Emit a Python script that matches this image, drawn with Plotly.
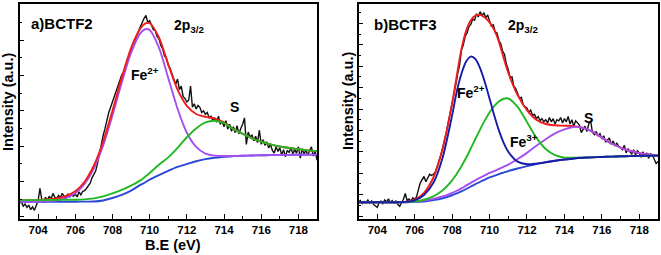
import numpy as np
import plotly.graph_objects as go

W, H = 661, 255

# ---------------- data ----------------
# measured spectra, 703.0 ... 719.0 eV in 0.1 eV steps (161 points)
e_data = np.round(np.linspace(703.0, 719.0, 161), 2)

bctf2_counts = [
    .38, .42, .30, .36, .26, .33, .20, .28, .18, .30,
    .45, .80, .48, .40, .55, .46, .58, .50, .66, .55,
    .52, .60, .54, .66, .58, .50, .65, .56, .62, .58,
    .64, .56, .70, .62, .72, .74, .80, .88, .95, 1.10,
    1.22, 1.30, 1.52, 1.80, 2.05, 2.30, 2.50, 2.78, 2.95, 3.10,
    3.25, 3.40, 3.58, 3.75, 3.85, 4.02, 4.10, 4.30, 4.45, 4.55,
    4.75, 4.90, 5.00, 5.15, 5.25, 5.38, 5.52, 5.62, 5.70, 5.50,
    5.55, 5.40, 5.30, 5.28, 5.10, 5.05, 4.85, 4.75, 4.55, 4.50,
    4.30, 4.20, 4.05, 3.95, 3.75, 3.90, 3.60, 3.70, 3.40, 3.35,
    3.25, 3.30, 3.70, 3.10, 3.20, 3.05, 3.15, 3.10, 2.95, 3.00,
    2.90, 2.95, 2.80, 2.85, 2.72, 2.80, 2.68, 2.85, 2.62, 2.70,
    2.55, 2.72, 2.48, 2.62, 2.42, 2.55, 2.38, 2.58, 2.35, 2.50,
    2.62, 2.80, 2.05, 2.40, 2.25, 2.32, 2.15, 2.28, 2.10, 2.45,
    2.05, 2.18, 2.02, 2.12, 1.95, 2.05, 1.88, 1.80, 1.98, 1.85,
    1.95, 1.75, 1.90, 1.70, 1.88, 1.82, 1.95, 1.78, 1.90, 1.80,
    1.98, 1.66, 1.92, 1.78, 1.88, 1.75, 1.85, 1.98, 1.72, 1.85,
    1.60,
]

bctf3_counts = [
    .66, .72, .58, .68, .62, .75, .60, .70, .55, .45,
    .40, .62, .70, .58, .75, .66, .80, .62, .72, .60,
    .70, .55, .45, .62, .78, 1.05, .72, .80, .70, .85,
    .78, .90, 1.25, 1.55, 1.70, 1.85, 1.60, 1.75, 1.95, 1.90,
    1.95, 2.05, 2.30, 2.55, 2.85, 3.20, 3.55, 3.95, 4.40, 4.80,
    5.30, 5.75, 6.15, 6.65, 7.05, 7.75, 8.00, 8.40, 8.55, 8.85,
    8.95, 9.20, 9.15, 9.45, 9.30, 9.55, 9.35, 9.50, 9.25, 9.40,
    9.10, 8.85, 8.95, 8.60, 8.55, 8.20, 8.05, 7.70, 7.55, 7.10,
    6.85, 6.45, 6.50, 6.05, 5.95, 5.75, 5.50, 5.55, 5.20, 5.10,
    5.05, 4.85, 4.95, 4.70, 4.75, 4.55, 4.65, 4.45, 4.55, 4.40,
    4.50, 4.35, 4.60, 4.40, 4.55, 4.30, 4.50, 4.45, 4.60, 4.35,
    4.55, 4.40, 4.65, 4.30, 4.50, 4.20, 4.45, 4.35, 4.25, 3.90,
    4.05, 4.20, 3.95, 4.30, 4.45, 3.90, 3.80, 3.95, 3.75, 3.85,
    3.60, 3.75, 3.45, 3.55, 3.65, 3.35, 3.50, 3.30, 3.40, 3.25,
    3.20, 3.10, 3.30, 2.95, 3.15, 3.00, 2.90, 3.10, 2.85, 3.05,
    2.95, 2.75, 3.00, 2.80, 2.95, 2.70, 2.90, 2.85, 2.60, 2.45,
    2.55,
]

# fitted curves, panel a (BCTF2)
e_fit_a = [703, 703.5, 704, 704.5, 705, 705.5, 706, 706.5, 707, 707.5,
           708, 708.5, 709, 709.5, 709.75, 710, 710.5, 711, 711.5, 712,
           712.5, 713, 713.5, 714, 714.5, 715, 715.5, 716, 716.5, 717,
           717.5, 718, 718.5, 719]
a_background = [.425, .425, .425, .425, .425, .425, .425, .427, .43, .46,
                .53, .62, .74, .90, .97, 1.05, 1.18, 1.30, 1.41, 1.49,
                1.57, 1.63, 1.67, 1.70, 1.715, 1.725, 1.733, 1.74, 1.745, 1.75,
                1.752, 1.755, 1.758, 1.76]
a_fe2 = [.425, .425, .425, .44, .465, .535, .665, .93, 1.36, 2.02,
         2.87, 3.80, 4.64, 5.20, 5.31, 5.29, 4.79, 3.93, 3.06, 2.38,
         1.98, 1.79, 1.73, 1.72, 1.72, 1.725, 1.733, 1.74, 1.745, 1.75,
         1.752, 1.755, 1.758, 1.76]
a_sat = [.47, .47, .47, .472, .475, .478, .48, .49, .52, .575,
         .66, .76, .88, 1.03, 1.13, 1.24, 1.47, 1.68, 1.95, 2.25,
         2.50, 2.67, 2.72, 2.65, 2.48, 2.35, 2.22, 2.13, 2.05, 1.99,
         1.95, 1.91, 1.88, 1.86]
a_envelope = [.47, .47, .47, .49, .515, .59, .72, .99, 1.45, 2.13,
              3.00, 3.94, 4.78, 5.33, 5.47, 5.48, 5.08, 4.31, 3.60, 3.14,
              2.91, 2.83, 2.78, 2.67, 2.485, 2.35, 2.22, 2.13, 2.05, 1.99,
              1.95, 1.91, 1.88, 1.86]

# fitted curves, panel b (BCTF3)
e_fit_b = [703, 703.5, 704, 704.5, 705, 705.5, 706, 706.5, 707, 707.5,
           708, 708.25, 708.5, 708.75, 709, 709.25, 709.5, 709.75, 710, 710.25,
           710.5, 710.75, 711, 711.5, 712, 712.5, 713, 713.5, 714, 714.5,
           715, 715.5, 716, 716.5, 717, 717.5, 718, 718.5, 719]
b_background = [.64, .64, .64, .64, .64, .64, .65, .68, .74, .83,
                .97, 1.06, 1.15, 1.26, 1.38, 1.49, 1.60, 1.70, 1.80, 1.88,
                1.96, 2.03, 2.10, 2.22, 2.33, 2.43, 2.51, 2.58, 2.64, 2.69,
                2.72, 2.74, 2.76, 2.775, 2.79, 2.80, 2.81, 2.815, 2.82]
b_fe2 = [.64, .64, .64, .64, .64, .66, .73, .98, 1.55, 2.75,
         4.70, 5.82, 6.65, 7.22, 7.45, 7.33, 6.90, 6.25, 5.49, 4.71,
         4.00, 3.43, 3.00, 2.54, 2.42, 2.45, 2.51, 2.58, 2.64, 2.69,
         2.72, 2.74, 2.76, 2.775, 2.79, 2.80, 2.81, 2.815, 2.82]
b_fe3 = [.64, .64, .64, .64, .64, .65, .68, .76, .92, 1.20,
         1.66, 1.97, 2.32, 2.72, 3.16, 3.61, 4.05, 4.47, 4.84, 5.13,
         5.35, 5.48, 5.49, 5.10, 4.39, 3.66, 3.13, 2.84, 2.73, 2.72,
         2.73, 2.74, 2.76, 2.775, 2.79, 2.80, 2.81, 2.815, 2.82]
b_sat = [.64, .64, .64, .64, .64, .645, .67, .72, .80, .91,
         1.08, 1.18, 1.29, 1.42, 1.55, 1.67, 1.79, 1.90, 2.01, 2.10,
         2.20, 2.30, 2.40, 2.66, 2.95, 3.28, 3.59, 3.86, 4.05, 4.16,
         4.12, 3.94, 3.66, 3.40, 3.20, 3.05, 2.94, 2.88, 2.84]
b_envelope = [.64, .64, .64, .64, .645, .66, .76, 1.08, 1.80, 3.15,
              5.25, 6.55, 7.80, 8.65, 9.15, 9.37, 9.40, 9.28, 9.05, 8.70,
              8.15, 7.40, 6.70, 5.65, 4.95, 4.50, 4.30, 4.24, 4.22, 4.20,
              4.12, 3.94, 3.66, 3.40, 3.20, 3.05, 2.94, 2.88, 2.84]

x_tick_vals = [704, 706, 708, 710, 712, 714, 716, 718]
x_tick_text = ["704", "706", "708", "710", "712", "714", "716", "718"]
x_minor_vals = [703, 705, 707, 709, 711, 713, 715, 717, 719]
ya_major = [0, 1, 2, 3, 4, 5]
ya_minor = [0.5, 1.5, 2.5, 3.5, 4.5, 5.5]
yb_major = [0, 1, 2, 3, 4, 5, 6, 7, 8, 9]
yb_minor = [0.5, 1.5, 2.5, 3.5, 4.5, 5.5, 6.5, 7.5, 8.5, 9.5]

# ---------------- colours ----------------
BLACK = "#111111"
RED = "#f01c1c"
PURPLE = "#a64ff0"
GREEN = "#22b822"
BLUE = "#2a48d6"
DBLUE = "#1a1aa8"
FONT = "Liberation Sans, Arial, sans-serif"

fig = go.Figure()


def add(x, y, color, width, xa, ya, shape="spline"):
    fig.add_trace(go.Scatter(
        x=x, y=y, mode="lines",
        line=dict(color=color, width=width, shape=shape, smoothing=0.8),
        xaxis=xa, yaxis=ya, showlegend=False, hoverinfo="skip"))


# panel a
add(e_data, bctf2_counts, BLACK, 1.4, "x", "y", shape="linear")
add(e_fit_a, a_background, BLUE, 1.9, "x", "y")
add(e_fit_a, a_fe2, PURPLE, 1.9, "x", "y")
add(e_fit_a, a_envelope, RED, 1.9, "x", "y")
add(e_fit_a, a_sat, GREEN, 1.9, "x", "y")

# panel b
add(e_data, bctf3_counts, BLACK, 1.4, "x2", "y2", shape="linear")
add(e_fit_b, b_background, BLUE, 1.9, "x2", "y2")
add(e_fit_b, b_envelope, RED, 1.9, "x2", "y2")
add(e_fit_b, b_sat, PURPLE, 1.9, "x2", "y2")
add(e_fit_b, b_fe3, GREEN, 1.9, "x2", "y2")
add(e_fit_b, b_fe2, DBLUE, 1.9, "x2", "y2")


def xax(domain, anchor):
    return dict(
        domain=domain, anchor=anchor, range=[703, 719],
        showline=True, linecolor="black", linewidth=1.6, mirror=True,
        showgrid=False, zeroline=False,
        tickmode="array", tickvals=x_tick_vals, ticktext=x_tick_text,
        ticks="inside", ticklen=5, tickwidth=1.2, tickcolor="black",
        tickfont=dict(family=FONT, size=11.5, color="black", weight="bold"),
        minor=dict(ticks="inside", ticklen=3, tickwidth=1.1, tickcolor="black",
                   tickmode="array", tickvals=x_minor_vals, showgrid=False),
    )


def yax(domain, anchor, rng, major, minor):
    return dict(
        domain=domain, anchor=anchor, range=rng,
        showline=True, linecolor="black", linewidth=1.6, mirror=True,
        showgrid=False, zeroline=False, showticklabels=False,
        tickmode="array", tickvals=major,
        ticks="inside", ticklen=5, tickwidth=1.2, tickcolor="black",
        minor=dict(ticks="inside", ticklen=3, tickwidth=1.1, tickcolor="black",
                   tickmode="array", tickvals=minor, showgrid=False),
    )


yd = [1 - 218.5 / H, 1 - 3.5 / H]
fig.update_layout(
    width=W, height=H,
    margin=dict(l=0, r=0, t=0, b=0),
    paper_bgcolor="white", plot_bgcolor="white",
    xaxis=xax([19.5 / W, 317 / W], "y"),
    yaxis=yax(yd, "x", [-0.051, 6.04], ya_major, ya_minor),
    xaxis2=xax([358.5 / W, 658 / W], "y2"),
    yaxis2=yax(yd, "x2", [-0.117, 9.93], yb_major, yb_minor),
)


def ann(text, px, py, size, xanchor="left", angle=0):
    fig.add_annotation(
        text=text, xref="paper", yref="paper", x=px / W, y=1 - py / H,
        xanchor=xanchor, yanchor="middle", showarrow=False, textangle=angle,
        font=dict(family=FONT, size=size, color="black"))


ann("<b>a)BCTF2</b>", 29, 23, 15)
ann("<b>2p<sub>3/2</sub></b>", 172, 26, 14)
ann("<b>Fe<sup>2+</sup></b>", 129, 74, 14)
ann("<b>S</b>", 234, 107, 14, xanchor="center")
ann("<b>b)BCTF3</b>", 372, 24, 15)
ann("<b>2p<sub>3/2</sub></b>", 506, 26, 14)
ann("<b>Fe<sup>2+</sup></b>", 455, 92, 14)
ann("<b>Fe<sup>3+</sup></b>", 508, 141, 14)
ann("<b>S</b>", 588, 118, 14, xanchor="center")
ann("<b>Intensity (a.u.)</b>", 8, 102, 14.5, xanchor="center", angle=-90)
ann("<b>Intensity (a.u.)</b>", 348, 101, 14.5, xanchor="center", angle=-90)
ann("<b>B.E (eV)</b>", 173, 245, 14.5, xanchor="center")

fig.write_html("out.html", config={"displayModeBar": False},
               post_script="document.body.style.margin='0';document.body.style.overflow='hidden';")
